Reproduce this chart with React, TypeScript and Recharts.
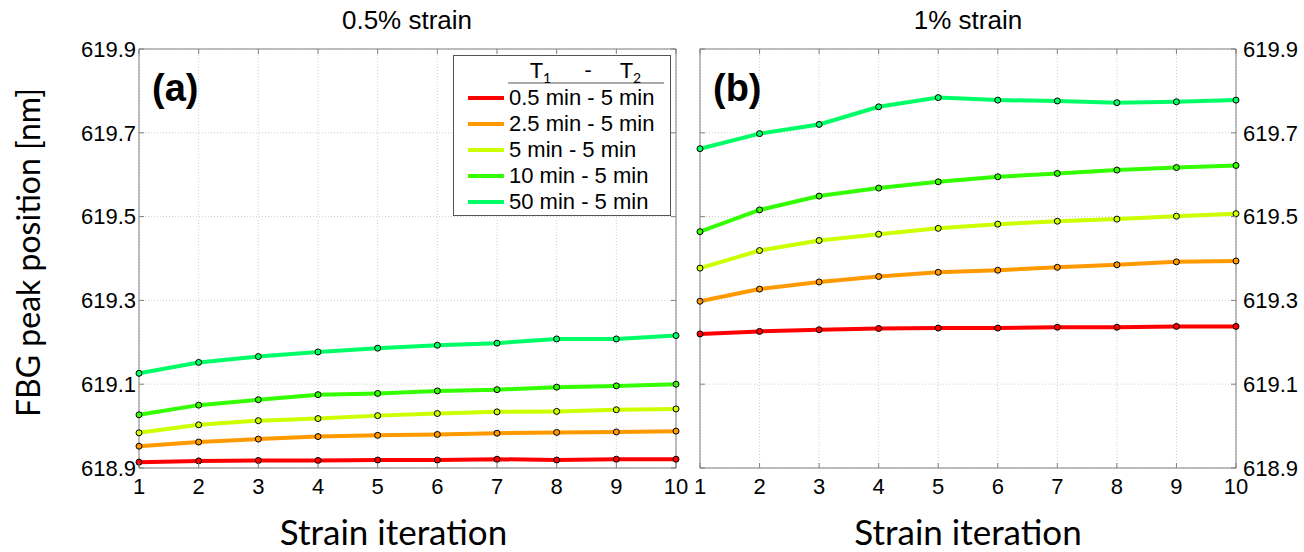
// FBG peak position vs strain iteration, two panels (0.5% and 1% strain), MATLAB-style boxed axes.

import { CartesianGrid, Label, Legend, Line, LineChart, ReferenceArea, XAxis, YAxis } from "recharts";

const iterations = [1, 2, 3, 4, 5, 6, 7, 8, 9, 10];
const yTicks = [618.9, 619.1, 619.3, 619.5, 619.7, 619.9];
const seriesNames = ["0.5 min - 5 min", "2.5 min - 5 min", "5 min - 5 min", "10 min - 5 min", "50 min - 5 min"];
const seriesColors = ["#ff0000", "#ff9900", "#ccff00", "#33ff00", "#00ff66"];

// (a) 0.5% strain
const lowT05 = [618.914, 618.917, 618.918, 618.918, 618.919, 618.919, 618.921, 618.919, 618.921, 618.921];
const lowT25 = [618.952, 618.962, 618.969, 618.975, 618.978, 618.98, 618.983, 618.985, 618.986, 618.988];
const lowT5 = [618.984, 619.003, 619.013, 619.018, 619.025, 619.03, 619.034, 619.035, 619.039, 619.041];
const lowT10 = [619.027, 619.05, 619.063, 619.075, 619.078, 619.084, 619.087, 619.093, 619.096, 619.1];
const lowT50 = [619.126, 619.152, 619.166, 619.177, 619.186, 619.193, 619.198, 619.208, 619.208, 619.216];

// (b) 1% strain
const highT05 = [619.22, 619.226, 619.23, 619.233, 619.234, 619.234, 619.236, 619.236, 619.238, 619.238];
const highT25 = [619.298, 619.327, 619.344, 619.357, 619.367, 619.372, 619.379, 619.385, 619.392, 619.394];
const highT5 = [619.377, 619.419, 619.443, 619.458, 619.472, 619.482, 619.489, 619.494, 619.501, 619.507];
const highT10 = [619.464, 619.516, 619.549, 619.568, 619.583, 619.595, 619.603, 619.611, 619.617, 619.622];
const highT50 = [619.662, 619.698, 619.72, 619.762, 619.784, 619.778, 619.776, 619.772, 619.774, 619.778];

const keys = ["s0", "s1", "s2", "s3", "s4"];

function toRows(series: number[][]) {
  return iterations.map((it, i) => {
    const row: Record<string, number> = { it };
    series.forEach((s, k) => (row[keys[k]] = s[i]));
    return row;
  });
}

const lowRows = toRows([lowT05, lowT25, lowT5, lowT10, lowT50]);
const highRows = toRows([highT05, highT25, highT5, highT10, highT50]);

const PLOT_TOP = 49;
const PLOT_BOTTOM = 468;
const TICK_FONT = "'Liberation Sans', Arial, sans-serif";
const LABEL_FONT = "Lato, 'Open Sans', sans-serif";
const BOX = "#808080";

function XTick(props: any) {
  const { x, y, payload } = props;
  return (
    <g>
      <line x1={x} x2={x} y1={PLOT_BOTTOM} y2={PLOT_BOTTOM - 5} stroke={BOX} />
      <line x1={x} x2={x} y1={PLOT_TOP} y2={PLOT_TOP + 5} stroke={BOX} />
      <text x={x} y={y} dy="0.71em" textAnchor="middle" fontSize={22} fontFamily={TICK_FONT} fill="#000">
        {payload.value}
      </text>
    </g>
  );
}

function YTick(props: any) {
  const { x, y, payload, left, right, side } = props;
  return (
    <g>
      <line x1={left} x2={left + 5} y1={y} y2={y} stroke={BOX} />
      <line x1={right} x2={right - 5} y1={y} y2={y} stroke={BOX} />
      <text
        x={x}
        y={y}
        dy="0.355em"
        textAnchor={side === "left" ? "end" : "start"}
        fontSize={22}
        fontFamily={TICK_FONT}
        fill="#000"
      >
        {Number(payload.value).toFixed(1)}
      </text>
    </g>
  );
}

function LegendBox() {
  return (
    <div
      style={{
        width: 216,
        height: 159,
        border: "1px solid #555",
        background: "#fff",
        fontFamily: TICK_FONT,
        fontSize: 22,
        color: "#000",
        position: "relative",
      }}
    >
      <div style={{ position: "absolute", left: 54, top: 0, width: 156, height: 26, borderBottom: "2px solid #aaa" }}>
        <span style={{ position: "absolute", left: 22, top: 0, fontFamily: LABEL_FONT, fontSize: 22 }}>
          T<sub style={{ fontSize: 14 }}>1</sub>
        </span>
        <span style={{ position: "absolute", left: 76, top: 0, fontFamily: LABEL_FONT }}>-</span>
        <span style={{ position: "absolute", left: 112, top: 0, fontFamily: LABEL_FONT, fontSize: 22 }}>
          T<sub style={{ fontSize: 14 }}>2</sub>
        </span>
      </div>
      {seriesNames.map((name, i) => (
        <div key={name} style={{ position: "absolute", left: 14, top: 29 + i * 26, height: 26, display: "flex", alignItems: "center" }}>
          <span style={{ display: "inline-block", width: 36, height: 4, background: seriesColors[i], marginRight: 5 }} />
          <span style={{ lineHeight: "26px" }}>{name}</span>
        </div>
      ))}
    </div>
  );
}

function Panel({
  rows,
  side,
  width,
  margin,
  plotLeft,
  plotRight,
  withLegend,
}: {
  rows: Record<string, number>[];
  side: "left" | "right";
  width: number;
  margin: { top: number; right: number; bottom: number; left: number };
  plotLeft: number;
  plotRight: number;
  withLegend: boolean;
}) {
  return (
    <LineChart width={width} height={552} data={rows} margin={margin} accessibilityLayer={false}>
      <CartesianGrid stroke="#cfcfcf" strokeDasharray="1 2" />
      <ReferenceArea x1={1} x2={10} y1={618.9} y2={619.9} stroke={BOX} strokeWidth={1} fill="none" fillOpacity={0} ifOverflow="visible" />
      <XAxis
        dataKey="it"
        type="number"
        domain={[1, 10]}
        ticks={iterations}
        height={84}
        tickSize={0}
        tickMargin={10}
        axisLine={false}
        tickLine={false}
        interval={0}
        tick={(p: any) => <XTick {...p} />}
      >
        <Label
          value="Strain iteration"
          position="insideBottom"
          offset={7}
          dx={side === "left" ? -14 : 0}
          style={{ fontFamily: LABEL_FONT, fontSize: 35, fill: "#000" }}
        />
      </XAxis>
      <YAxis
        orientation={side}
        type="number"
        domain={[618.9, 619.9]}
        ticks={yTicks}
        width={side === "left" ? 120 : 68}
        tickSize={0}
        tickMargin={side === "left" ? 3 : 7}
        axisLine={false}
        tickLine={false}
        interval={0}
        tick={(p: any) => <YTick {...p} left={plotLeft} right={plotRight} side={side} />}
      >
        {side === "left" && (
          <Label
            value="FBG peak position [nm]"
            angle={-90}
            position="insideLeft"
            offset={10}
            dy={-6}
            style={{ fontFamily: LABEL_FONT, fontSize: 32, fill: "#000", textAnchor: "middle" }}
          />
        )}
      </YAxis>
      {withLegend && (
        <Legend
          layout="vertical"
          align="center"
          verticalAlign="middle"
          content={() => <LegendBox />}
          wrapperStyle={{ left: 453, top: 55, width: 218, height: 161 }}
        />
      )}
      {keys.map((k, i) => (
        <Line
          key={k}
          type="linear"
          dataKey={k}
          name={seriesNames[i]}
          stroke={seriesColors[i]}
          strokeWidth={4}
          dot={{ r: 3, stroke: "#000", strokeWidth: 1, fill: seriesColors[i] }}
          activeDot={false}
          isAnimationActive={false}
        />
      ))}
    </LineChart>
  );
}

const titleStyle = {
  position: "absolute" as const,
  top: 4,
  fontFamily: TICK_FONT,
  fontSize: 26,
  lineHeight: "32px",
  transform: "translateX(-50%)",
  whiteSpace: "nowrap" as const,
};

const tagStyle = {
  position: "absolute" as const,
  top: 66,
  fontFamily: TICK_FONT,
  fontSize: 38,
  fontWeight: 700,
  lineHeight: "44px",
};

export default function App() {
  return (
    <div style={{ position: "absolute", left: 0, top: 0, width: 1304, height: 552, background: "#fff", overflow: "hidden" }}>
      <div style={{ position: "absolute", left: 0, top: 0 }}>
        <Panel
          rows={lowRows}
          side="left"
          width={700}
          margin={{ top: PLOT_TOP, right: 24, bottom: 0, left: 19 }}
          plotLeft={139}
          plotRight={676}
          withLegend
        />
      </div>
      <div style={{ position: "absolute", left: 680, top: 0 }}>
        <Panel
          rows={highRows}
          side="right"
          width={624}
          margin={{ top: PLOT_TOP, right: 0, bottom: 0, left: 20 }}
          plotLeft={20}
          plotRight={556}
          withLegend={false}
        />
      </div>
      <div style={{ ...titleStyle, left: 407 }}>0.5% strain</div>
      <div style={{ ...titleStyle, left: 968 }}>1% strain</div>
      <div style={{ ...tagStyle, left: 152 }}>(a)</div>
      <div style={{ ...tagStyle, left: 713 }}>(b)</div>
    </div>
  );
}
